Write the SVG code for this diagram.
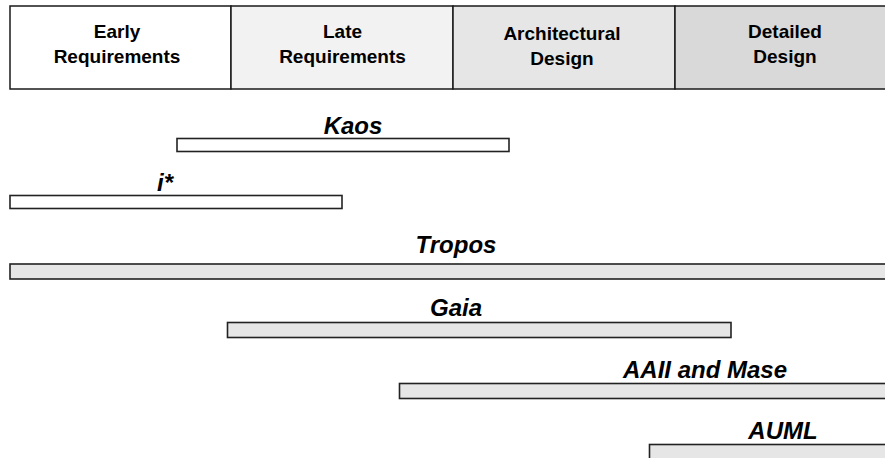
<svg xmlns="http://www.w3.org/2000/svg" width="885" height="458" viewBox="0 0 885 458">
<style>
.hd{stroke:#1a1a1a;stroke-width:1.5}
.ht{font-family:"Liberation Sans",Arial,sans-serif;font-weight:bold;font-size:19px;fill:#000;text-anchor:middle}
.bar{stroke:#222222;stroke-width:1.6}
.bw{fill:#ffffff}
.bg{fill:#e6e6e6}
.bt{font-family:"Liberation Sans",Arial,sans-serif;font-weight:bold;font-style:italic;font-size:24px;fill:#000;text-anchor:middle}
</style>
<rect width="885" height="458" fill="#ffffff"/>
<g id="phase-early">
<rect class="hd" x="10" y="6" width="221" height="83" fill="#ffffff"/>
<text class="ht" x="117" y="37.5">Early</text>
<text class="ht" x="117" y="62.5">Requirements</text>
</g>
<g id="phase-late">
<rect class="hd" x="231" y="6" width="222" height="83" fill="#f2f2f2"/>
<text class="ht" x="342.5" y="37.5">Late</text>
<text class="ht" x="342.5" y="62.5">Requirements</text>
</g>
<g id="phase-arch">
<rect class="hd" x="453" y="6" width="222" height="83" fill="#e6e6e6"/>
<text class="ht" x="562" y="39.5">Architectural</text>
<text class="ht" x="562" y="64.5">Design</text>
</g>
<g id="phase-detailed">
<rect class="hd" x="675" y="6" width="220" height="83" fill="#d9d9d9"/>
<text class="ht" x="785" y="37.5">Detailed</text>
<text class="ht" x="785" y="62.5">Design</text>
</g>
<g id="kaos">
<rect class="bar bw" x="177" y="138.5" width="332" height="13"/>
<text class="bt" x="353" y="134">Kaos</text>
</g>
<g id="istar">
<rect class="bar bw" x="10" y="195.5" width="332" height="13"/>
<text class="bt" x="165" y="190.5">i*</text>
</g>
<g id="tropos">
<rect class="bar bg" x="10" y="264" width="890" height="15"/>
<text class="bt" x="456" y="253">Tropos</text>
</g>
<g id="gaia">
<rect class="bar bg" x="227.5" y="322.5" width="503.5" height="15"/>
<text class="bt" x="456" y="316">Gaia</text>
</g>
<g id="aaii-mase">
<rect class="bar bg" x="399.5" y="383.5" width="500" height="15"/>
<text class="bt" x="705" y="378">AAII and Mase</text>
</g>
<g id="auml">
<rect class="bar bg" x="649.5" y="444.5" width="250" height="20"/>
<text class="bt" x="783" y="439">AUML</text>
</g>
</svg>
